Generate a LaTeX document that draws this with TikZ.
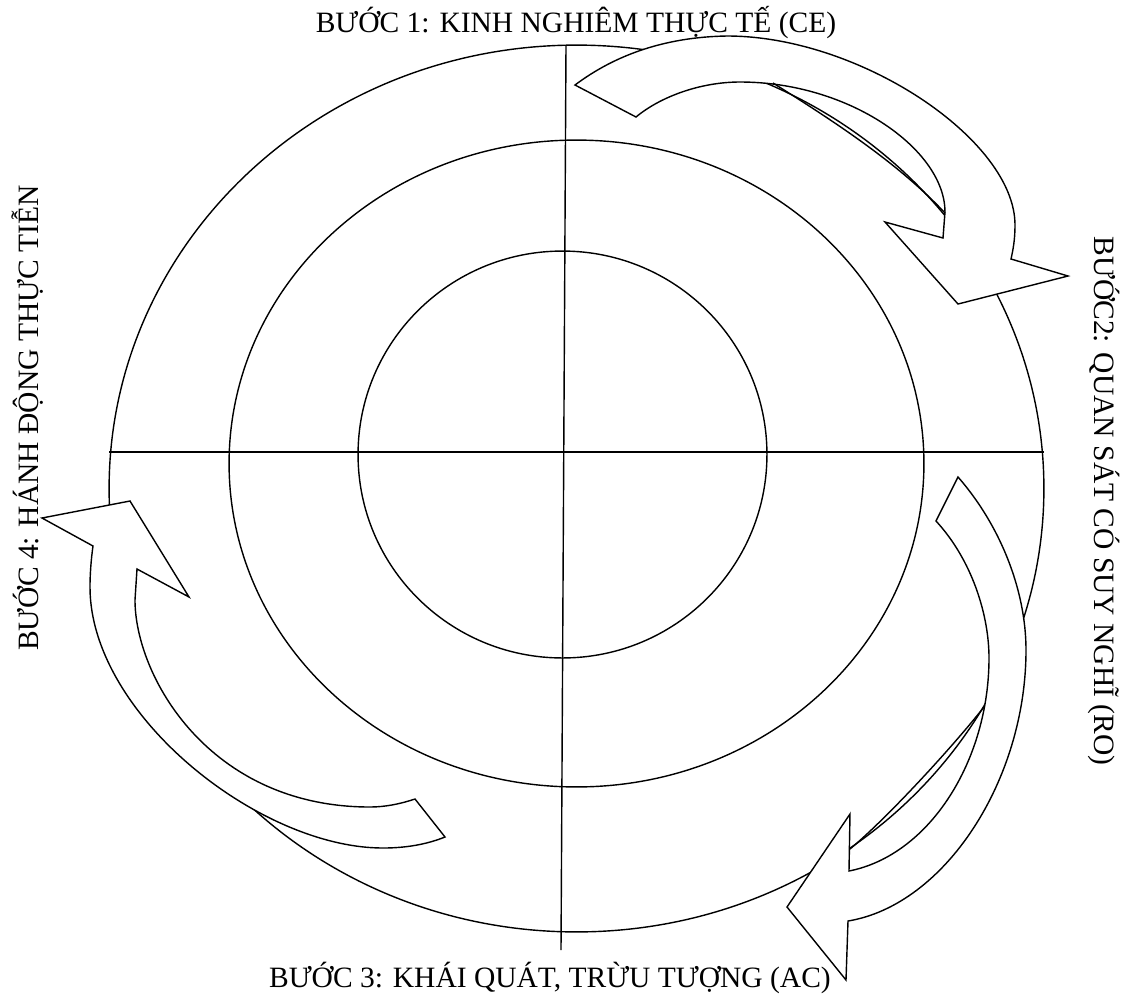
\documentclass[tikz,border=0pt]{standalone}
\usepackage{fontspec}
\setmainfont{Liberation Serif}
\usetikzlibrary{shapes.geometric}

\tikzset{
    ring/.style={
        ellipse, draw=black, line width=0.8pt, inner sep=0pt
    },
    axisLine/.style={
        draw=black, line width=0.8pt
    },
    blockArrow/.style={
        draw=black, fill=white, line width=0.8pt, line join=miter
    },
    foldLine/.style={
        draw=black, line width=0.8pt
    },
    stepLabel/.style={
        font=\fontsize{16.8}{20}\selectfont, inner sep=0pt, anchor=base, text=black
    },
}

\begin{document}
\begin{tikzpicture}[x=0.02cm, y=-0.02cm]

    \useasboundingbox (0,0) rectangle (1126,1002);

    % ----------------------------------------------------------
    % VONG TRON — tam cach nhau (1 don vi = 1 px)
    % ----------------------------------------------------------
    \node[ring, minimum width=18.70cm, minimum height=17.74cm] at (576.5,488.5) (outerRing)  {};
    \node[ring, minimum width=13.90cm, minimum height=12.94cm] at (576.5,463.5) (middleRing) {};
    \node[ring, minimum width=8.18cm,  minimum height=8.14cm]  at (562.5,454.5) (innerRing)  {};

    % ----------------------------------------------------------
    % TRUC DOC / TRUC NGANG
    % ----------------------------------------------------------
    \coordinate (axisTop)    at (566,45);
    \coordinate (axisBottom) at (561,950);
    \coordinate (axisLeft)   at (109,452);
    \coordinate (axisRight)  at (1044,452);

    \draw[axisLine] (axisTop)  -- (axisBottom);
    \draw[axisLine] (axisLeft) -- (axisRight);

    % ----------------------------------------------------------
    % MUI TEN 1 — tren, sang phai
    % ----------------------------------------------------------
    \draw[blockArrow]
        (575,85)
        .. controls (615,55) and (665,37) .. (727,36)
        .. controls (860,36) and (1015,140) .. (1015,225)
        .. controls (1015,240) and (1013,250) .. (1011,259)
        -- (1068,276) -- (958,304) -- (885,222) -- (943,238)
        -- (945,212)
        .. controls (945,150) and (850,82) .. (740,82)
        .. controls (700,82) and (660,97) .. (636,117)
        -- cycle;
    \draw[foldLine] (773,83) .. controls (835,122) and (898,163) .. (945,213);

    % ----------------------------------------------------------
    % MUI TEN 2 — phai, xuong duoi
    % ----------------------------------------------------------
    \draw[blockArrow]
        (958,477)
        .. controls (1000,525) and (1026,590) .. (1026,650)
        .. controls (1026,780) and (945,905) .. (848,921)
        -- (846,980) -- (787,907) -- (850,814) -- (849,871)
        .. controls (930,855) and (989,760) .. (989,658)
        .. controls (989,615) and (972,560) .. (936,521)
        -- cycle;
    \draw[foldLine] (984,707) .. controls (950,750) and (885,820) .. (850,849);

    % ----------------------------------------------------------
    % MUI TEN 3 — duoi trai, len tren
    % ----------------------------------------------------------
    \draw[blockArrow]
        (445,837)
        .. controls (430,843) and (410,848) .. (383,848)
        .. controls (259,848) and (90,714) .. (90,587)
        .. controls (90,575) and (91,560) .. (93,546)
        -- (42,518) -- (130,501) -- (189,597) -- (137,569)
        -- (135,600)
        .. controls (135,676) and (209,807) .. (370,807)
        .. controls (385,807) and (400,804) .. (415,799)
        -- cycle;

    % ----------------------------------------------------------
    % NHAN CAC BUOC (anchor=base: toa do la duong chan chu)
    % ----------------------------------------------------------
    \node[stepLabel]             at (576,32)   (stepOne)   {BƯỚC 1: KINH NGHIÊM THỰC TẾ (CE)};
    \node[stepLabel, rotate=-90] at (1094,501) (stepTwo)   {BƯỚC2: QUAN SÁT CÓ SUY NGHĨ (RO)};
    \node[stepLabel]             at (550,987)  (stepThree) {BƯỚC 3: KHÁI QUÁT, TRỪU TƯỢNG (AC)};
    \node[stepLabel, rotate=90]  at (38,418)   (stepFour)  {BƯỚC 4: HÁNH ĐỘNG THỰC TIỄN};

\end{tikzpicture}
\end{document}
